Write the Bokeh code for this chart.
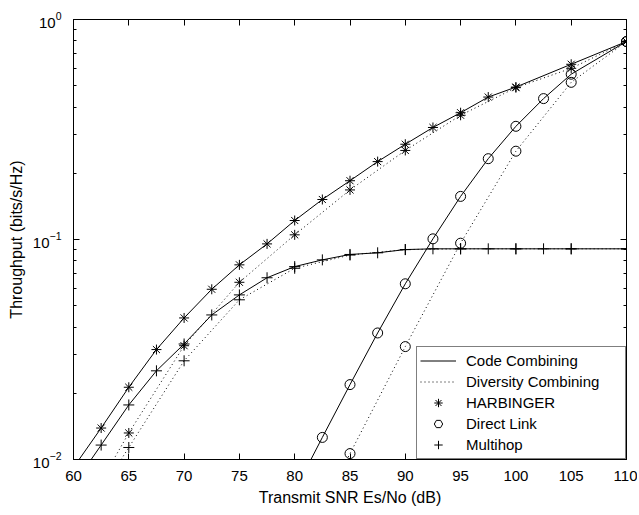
import math
from bokeh.plotting import figure
from bokeh.models import (Range1d, LogAxis, LinearAxis, Legend, LegendItem,
                          FixedTicker, CustomLabelingPolicy, Title)
from bokeh.embed import file_html
from bokeh.resources import INLINE

# ---- data ----
x_ticks = [60, 65, 70, 75, 80, 85, 90, 95, 100, 105, 110]
y_ticks = [0.01, 0.1, 1]
y_minor = [0.02, 0.03, 0.04, 0.05, 0.06, 0.07, 0.08, 0.09,
           0.2, 0.3, 0.4, 0.5, 0.6, 0.7, 0.8, 0.9]

harb_code_x = [60, 62.5, 65, 67.5, 70, 72.5, 75, 77.5, 80, 82.5, 85, 87.5,
               90, 92.5, 95, 97.5, 100, 105, 110]
harb_code_y = [0.0092, 0.0139, 0.0213, 0.0316, 0.0440, 0.0594, 0.0767, 0.0955,
               0.122, 0.152, 0.185, 0.226, 0.271, 0.323, 0.377, 0.444, 0.493,
               0.626, 0.794]

harb_div_x = [60, 65, 70, 75, 80, 85, 90, 95, 100, 105, 110]
harb_div_y = [0.0048, 0.0132, 0.0329, 0.0639, 0.105, 0.168, 0.254, 0.367,
              0.490, 0.600, 0.794]

multi_code_x = [60, 62.5, 65, 67.5, 70, 72.5, 75, 77.5, 80, 82.5, 85, 87.5,
                90, 92.5, 95, 97.5, 100, 102.5, 105, 110]
multi_code_y = [0.00766, 0.01163, 0.0177, 0.0253, 0.0335, 0.0454, 0.0560,
                0.0670, 0.0753, 0.0808, 0.0855, 0.0870, 0.0900, 0.0907,
                0.0907, 0.0907, 0.0907, 0.0907, 0.0907, 0.0907]

multi_div_x = [60, 65, 70, 75, 80, 85, 90, 95, 100, 105, 110]
multi_div_y = [0.0046, 0.01134, 0.0281, 0.0532, 0.0740, 0.0850, 0.0900,
               0.0907, 0.0907, 0.0907, 0.0907]

direct_code_x = [80, 82.5, 85, 87.5, 90, 92.5, 95, 97.5, 100, 102.5, 105, 110]
direct_code_y = [0.0072, 0.0126, 0.0219, 0.0376, 0.0629, 0.1007, 0.157,
                 0.233, 0.327, 0.437, 0.564, 0.794]

direct_div_x = [80, 85, 90, 95, 100, 105, 110]
direct_div_y = [0.0035, 0.01064, 0.0326, 0.0962, 0.252, 0.518, 0.794]

FONT = "Liberation Sans"
DOT = "1 3"
NAN = [float("nan")]

p = figure(width=637, height=513,
           x_range=Range1d(60, 110), y_range=Range1d(0.01, 1),
           y_axis_type="log", output_backend="svg", toolbar_location=None,
           min_border_left=72, min_border_top=19, min_border_right=11,
           min_border_bottom=54, background_fill_color="white",
           border_fill_color="white")
p.grid.visible = False
p.outline_line_color = "black"
p.outline_line_width = 1


def series(xs, ys, dash, marker, size):
    p.line(xs, ys, line_color="black", line_width=1, line_dash=dash)
    p.scatter(xs, ys, marker=marker, size=size, line_color="black",
              fill_color=None, line_width=1)


series(harb_code_x, harb_code_y, "solid", "asterisk", 10)
series(harb_div_x, harb_div_y, DOT, "asterisk", 10)
series(multi_code_x, multi_code_y, "solid", "cross", 11)
series(multi_div_x, multi_div_y, DOT, "cross", 11)
series(direct_code_x, direct_code_y, "solid", "circle", 10)
series(direct_div_x, direct_div_y, DOT, "circle", 10)

hide_labels = CustomLabelingPolicy(code="""
const all = Array.from(indices)
for (const i of all) indices.unset(i)
return indices
""")


def style_axis(ax, labels=True, minor=True):
    ax.axis_line_color = "black"
    ax.major_tick_line_color = "black"
    ax.minor_tick_line_color = "black"
    ax.major_tick_in = 6
    ax.major_tick_out = 0
    ax.minor_tick_in = 3 if minor else 0
    ax.minor_tick_out = 0
    ax.major_label_text_font = FONT
    ax.major_label_text_color = "black"
    ax.major_label_text_font_size = "15px" if labels else "1px"
    ax.major_label_text_line_height = 1.0
    ax.axis_label_text_font = FONT
    ax.axis_label_text_font_style = "normal"
    ax.axis_label_text_font_size = "16px"
    ax.axis_label_text_line_height = 1.0
    ax.axis_label_text_color = "black"
    if not labels:
        ax.major_label_policy = hide_labels
        ax.major_label_standoff = 0
        ax.axis_label_standoff = 0


xb = p.xaxis[0]
xb.ticker = FixedTicker(ticks=x_ticks, minor_ticks=[])
xb.axis_label = "Transmit SNR Es/No (dB)"
style_axis(xb, minor=False)
xb.major_label_standoff = 11
xb.axis_label_standoff = 5

yl = p.yaxis[0]
yl.ticker = FixedTicker(ticks=y_ticks, minor_ticks=y_minor)
style_axis(yl)
yl.major_label_standoff = 12

ytitle = Title(text="Throughput (bits/s/Hz)", align="center", offset=-12,
               text_font=FONT, text_font_size="16px", text_font_style="normal",
               text_color="black", standoff=10)
p.add_layout(ytitle, "left")

xt = LinearAxis(ticker=FixedTicker(ticks=x_ticks, minor_ticks=[]))
style_axis(xt, labels=False, minor=False)
p.add_layout(xt, "above")

yr = LogAxis(ticker=FixedTicker(ticks=y_ticks, minor_ticks=y_minor))
style_axis(yr, labels=False)
p.add_layout(yr, "right")

# legend-only glyphs (not visible in the plot area)
r_solid = p.line(NAN, NAN, line_color="black", line_width=1)
r_dot = p.line(NAN, NAN, line_color="black", line_width=1, line_dash=DOT)
r_ast = p.scatter(NAN, NAN, marker="asterisk", size=9, line_color="black")
r_hex = p.scatter(NAN, NAN, marker="hex", size=11, angle=math.pi / 6,
                  line_color="black", line_width=1, fill_color=None)
r_cross = p.scatter(NAN, NAN, marker="cross", size=11, line_color="black")

legend = Legend(items=[
    LegendItem(label="Code Combining", renderers=[r_solid]),
    LegendItem(label="Diversity Combining", renderers=[r_dot]),
    LegendItem(label="HARBINGER", renderers=[r_ast]),
    LegendItem(label="Direct Link", renderers=[r_hex]),
    LegendItem(label="Multihop", renderers=[r_cross]),
], location="bottom_right")
legend.margin = 0
legend.padding = 3
legend.spacing = 0
legend.glyph_width = 36
legend.glyph_height = 21
legend.label_height = 21
legend.label_width = 156
legend.label_standoff = 10
legend.label_text_font = FONT
legend.label_text_font_size = "15px"
legend.label_text_color = "black"
legend.border_line_color = "black"
legend.border_line_width = 1
legend.background_fill_color = "white"
legend.background_fill_alpha = 1
p.add_layout(legend, "center")

open("out.html", "w").write(file_html(p, INLINE))
